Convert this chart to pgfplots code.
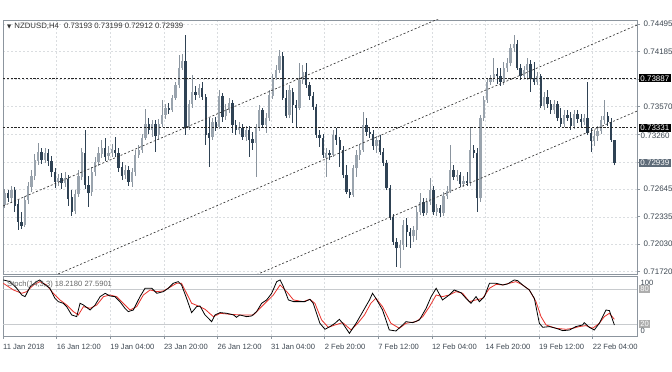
\documentclass[border=0pt]{standalone}
\usepackage{pgfplots}
\pgfplotsset{compat=1.18}
\usepackage{pgfplotstable}
\usepackage{fontspec}
\setmainfont{Liberation Sans}
\newfontfamily\dejavu{DejaVu Sans}
\definecolor{bullc}{HTML}{9AA4AE}
\definecolor{bullw}{HTML}{8A949E}
\definecolor{bearc}{HTML}{2F4254}
\definecolor{axc}{HTML}{8C959E}
\definecolor{txt}{HTML}{3E4852}
\definecolor{gridc}{HTML}{DADDE0}
\definecolor{lastc}{HTML}{5E6B78}
\definecolor{levc}{HTML}{C8CBCE}
\definecolor{stochred}{HTML}{E8302A}

\pgfplotstableread{
i o h l c
0 .72467 .72646 .72433 .72601
2 .72545 .72680 .72489 .72635
6 .72243 .72568 .72221 .72523
7 .72523 .72725 .72478 .72680
8 .72669 .72859 .72613 .72792
9 .72792 .73039 .72747 .72972
10 .72961 .73162 .72916 .73062
12 .72972 .73106 .72938 .73050
16 .72725 .72814 .72680 .72769
18 .72713 .72837 .72669 .72769
21 .72400 .72635 .72366 .72590
22 .72590 .72859 .72557 .72792
23 .72781 .73106 .72747 .73062
26 .72613 .72894 .72568 .72837
27 .72837 .73006 .72792 .72950
28 .72950 .73118 .72905 .73050
29 .73039 .73196 .72994 .73106
31 .73017 .73129 .72972 .73050
32 .73050 .73151 .73006 .73095
36 .72803 .72916 .72758 .72859
38 .72725 .72882 .72669 .72837
39 .72837 .73084 .72792 .73028
40 .73028 .73140 .72994 .73084
41 .73084 .73263 .73050 .73218
42 .73218 .73543 .73196 .73375
44 .73308 .73420 .73230 .73375
46 .73252 .73431 .73196 .73375
47 .73375 .73644 .73342 .73476
48 .73476 .73599 .73431 .73554
50 .73532 .73700 .73510 .73666
51 .73666 .73846 .73644 .73812
52 .73812 .74148 .73778 .74002
53 .74002 .74159 .73980 .74081
55 .73330 .73644 .73308 .73599
56 .73599 .73924 .73554 .73734
58 .73700 .73823 .73666 .73778
62 .73230 .73442 .73196 .73398
64 .73342 .73756 .73319 .73689
66 .73465 .73599 .73420 .73543
67 .73543 .73666 .73498 .73610
70 .73308 .73398 .73263 .73342
72 .73230 .73353 .73185 .73308
75 .73162 .73375 .72781 .73330
76 .73330 .73588 .73297 .73532
78 .73364 .73498 .73274 .73442
79 .73442 .73756 .73409 .73700
80 .73689 .73935 .73655 .73890
81 .73890 .74036 .73868 .73980
82 .73980 .74204 .73946 .74137
85 .73476 .73812 .73442 .73756
88 .73554 .74058 .73532 .73868
89 .73868 .74036 .73823 .73958
96 .72994 .73106 .72781 .73050
98 .73028 .73308 .73006 .73252
104 .72579 .72916 .72557 .72882
105 .72882 .73084 .72781 .73028
106 .73028 .73151 .72972 .73084
107 .73084 .73510 .73062 .73364
111 .73129 .73241 .73050 .73196
118 .71985 .72075 .71761 .72019
119 .72019 .72299 .71963 .72243
122 .72120 .72232 .72053 .72187
123 .72187 .72456 .72075 .72389
124 .72389 .72601 .72355 .72501
126 .72377 .72545 .72355 .72501
127 .72501 .72769 .72467 .72635
129 .72389 .72478 .72344 .72433
131 .72377 .72613 .72344 .72568
132 .72568 .72680 .72534 .72624
133 .72624 .73140 .72601 .72859
135 .72781 .72859 .72736 .72803
137 .72702 .72792 .72669 .72736
139 .72713 .73342 .72680 .73084
142 .72545 .73476 .72501 .73442
143 .73442 .73689 .73409 .73644
144 .73644 .73890 .73610 .73846
145 .73846 .73924 .73812 .73890
146 .73890 .74114 .73846 .73935
149 .73846 .74070 .73812 .74002
150 .74002 .74114 .73958 .74058
151 .74058 .74267 .74019 .74226
152 .74226 .74372 .74182 .74267
155 .73913 .74019 .73879 .73980
156 .73980 .74114 .73868 .74047
159 .73846 .73958 .73812 .73913
161 .73577 .73734 .73532 .73678
164 .73532 .73644 .73487 .73599
167 .73375 .73532 .73342 .73476
170 .73353 .73532 .73319 .73487
173 .73398 .73487 .73364 .73442
176 .73185 .73308 .73129 .73241
177 .73241 .73353 .73185 .73297
178 .73297 .73465 .73263 .73420
179 .73420 .73644 .73375 .73465
}\bull

\pgfplotstableread{
i o h l c
1 .72601 .72635 .72501 .72545
3 .72635 .72669 .72389 .72456
4 .72478 .72523 .72187 .72277
5 .72277 .72389 .72198 .72232
11 .73062 .73106 .72927 .72972
13 .73050 .73095 .72905 .72961
14 .72961 .73017 .72781 .72837
15 .72837 .72882 .72657 .72725
17 .72769 .72825 .72646 .72713
19 .72758 .72803 .72456 .72534
20 .72557 .72635 .72344 .72389
24 .73050 .73308 .72646 .72691
25 .72691 .72792 .72445 .72601
30 .73106 .73218 .72961 .73006
33 .73084 .73230 .73006 .73050
34 .73050 .73106 .72837 .72882
35 .72894 .72950 .72747 .72792
37 .72859 .72905 .72680 .72725
43 .73375 .73442 .73263 .73308
45 .73375 .73420 .73062 .73241
49 .73554 .73610 .73487 .73532
54 .74081 .74372 .73252 .73330
57 .73734 .73801 .73644 .73700
59 .73778 .73846 .73644 .73678
60 .73678 .73711 .73140 .73252
61 .73274 .73442 .72894 .73218
63 .73398 .73454 .73297 .73342
65 .73689 .73722 .73398 .73454
68 .73610 .73644 .73274 .73364
69 .73364 .73420 .73252 .73308
71 .73330 .73375 .73196 .73230
73 .73308 .73353 .73006 .73196
74 .73207 .73286 .73084 .73162
77 .73532 .73554 .73330 .73364
83 .74137 .74182 .73644 .73666
84 .73666 .73756 .73442 .73465
86 .73734 .73778 .73386 .73588
87 .73588 .73644 .73342 .73554
90 .73958 .74058 .73778 .73812
91 .73812 .73846 .73644 .73689
92 .73689 .73734 .73532 .73566
93 .73566 .73599 .73218 .73252
94 .73252 .73308 .73118 .73218
95 .73218 .73263 .72994 .73028
97 .73050 .73084 .72972 .73028
99 .73252 .73330 .73140 .73196
100 .73196 .73230 .72894 .73084
101 .73084 .73129 .72769 .72803
102 .72803 .72916 .72590 .72613
103 .72613 .72646 .72545 .72579
108 .73364 .73442 .73241 .73286
109 .73286 .73330 .73218 .73263
110 .73263 .73308 .73084 .73129
112 .73196 .73252 .73028 .73062
113 .73062 .73106 .72905 .72938
114 .72938 .72972 .72635 .72657
115 .72657 .72691 .72299 .72333
116 .72333 .72366 .72019 .72053
117 .72053 .72097 .71773 .71985
120 .72243 .72321 .71997 .72165
121 .72165 .72209 .71985 .72120
125 .72501 .72545 .72344 .72377
128 .72635 .72680 .72355 .72389
130 .72433 .72467 .72333 .72377
134 .72859 .72916 .72747 .72781
136 .72803 .72837 .72669 .72702
138 .72736 .72837 .72680 .72713
140 .73084 .73140 .72994 .73050
141 .73050 .73106 .72389 .72545
147 .73935 .74002 .73823 .73913
148 .73913 .74002 .73801 .73846
153 .74267 .74316 .73980 .74002
154 .74002 .74047 .73868 .73913
157 .74047 .74092 .73734 .73890
158 .73890 .74070 .73812 .73846
160 .73913 .73935 .73554 .73577
162 .73678 .73756 .73554 .73599
163 .73599 .73644 .73487 .73532
165 .73599 .73633 .73409 .73442
166 .73442 .73554 .73342 .73375
168 .73476 .73532 .73409 .73442
169 .73442 .73510 .73308 .73353
171 .73487 .73532 .73386 .73431
172 .73431 .73487 .73342 .73398
174 .73442 .73846 .73252 .73274
175 .73274 .73330 .73062 .73185
180 .73465 .73510 .73353 .73398
181 .73398 .73442 .73174 .73196
182 .73193 .73199 .72912 .72939
}\bear

\begin{document}
\begin{tikzpicture}
\path[use as bounding box] (0,0) rectangle (672pt,372pt);
\fill[white] (0,0) rectangle (672pt,372pt);

\begin{axis}[
  at={(3pt,98pt)}, anchor=south west,
  scale only axis, width=634pt, height=254pt,
  xmin=-0.5, xmax=188.75, ymin=0.71694, ymax=0.74540,
  axis line style={draw=axc, line width=0.9pt},
  xtick={-0.5,15.5,...,175.5}, xticklabels={},
  ytick={0.74495,0.74185,0.73875,0.73570,0.73260,0.72950,0.72645,0.72335,0.72030,0.71720},
  yticklabels={0.74495,0.74185,,0.73570,,,0.72645,0.72335,0.72030,0.71720},
  ytick pos=right, tick align=outside, major tick length=3pt,
  xtick style={draw=none}, ytick style={draw=axc, line width=0.6pt},
  grid=major, major grid style={draw=gridc, dash pattern=on 2pt off 2pt, line width=0.5pt},
  yticklabel style={anchor=west, inner sep=0pt, xshift=3.5pt, font=\fontsize{8}{9}\selectfont, text=txt},
]
% wicks
\addplot[draw=none, mark=none, error bars/.cd, y dir=plus, y explicit, error mark=none,
  error bar style={draw=bullw, line width=0.7pt}]
  table[x=i, y=l, y error expr=\thisrow{h}-\thisrow{l}] {\bull};
\addplot[draw=none, mark=none, error bars/.cd, y dir=plus, y explicit, error mark=none,
  error bar style={draw=bearc, line width=0.7pt}]
  table[x=i, y=l, y error expr=\thisrow{h}-\thisrow{l}] {\bear};
% bodies
\addplot[draw=none, mark=none, error bars/.cd, y dir=plus, y explicit, error mark=none,
  error bar style={draw=bullc, line width=2.3pt}]
  table[x=i, y=o, y error expr=\thisrow{c}-\thisrow{o}] {\bull};
\addplot[draw=none, mark=none, error bars/.cd, y dir=plus, y explicit, error mark=none,
  error bar style={draw=bearc, line width=2.3pt}]
  table[x=i, y=c, y error expr=\thisrow{o}-\thisrow{c}] {\bear};
% channel lines
\addplot[black!80, line width=0.65pt, dash pattern=on 2pt off 2pt] coordinates {(-0.5,0.72456) (188.75,0.75510)};
\addplot[black!80, line width=0.65pt, dash pattern=on 2pt off 2pt] coordinates {(-0.5,0.71429) (188.75,0.74483)};
\addplot[black!80, line width=0.65pt, dash pattern=on 2pt off 2pt] coordinates {(-0.5,0.70465) (188.75,0.73519)};
% horizontal levels
\addplot[black!85, line width=0.9pt, dash pattern=on 2.2pt off 1.6pt] coordinates {(-0.5,0.73887) (188.75,0.73887)};
\addplot[black!85, line width=0.9pt, dash pattern=on 2.2pt off 1.6pt] coordinates {(-0.5,0.73331) (188.75,0.73331)};
\coordinate (b1) at (axis cs:188.75,0.73887);
\coordinate (b2) at (axis cs:188.75,0.73331);
\coordinate (b3) at (axis cs:188.75,0.72939);
\coordinate (t4) at (axis cs:188.75,0.73260);
\node[anchor=north west, inner sep=0pt, font=\fontsize{7.8}{9}\selectfont, text=black!80] at (rel axis cs:0,1) [xshift=4pt, yshift=-3pt]
  {{\dejavu\fontsize{5.5}{6}\selectfont ▼}\hspace{3pt}NZDUSD,H4\hspace{5pt}0.73193 0.73199 0.72912 0.72939};
\end{axis}
\node[anchor=west, inner sep=0pt, font=\fontsize{8}{9}\selectfont, text=txt] at ([xshift=3.5pt, yshift=-1.8pt]t4) {0.73260};
\node[fill=black, text=white, anchor=west, inner xsep=1.2pt, inner ysep=1pt, font=\fontsize{8}{9}\selectfont] at ([xshift=2pt]b1) {0.73887};
\node[fill=black, text=white, anchor=west, inner xsep=1.2pt, inner ysep=1pt, font=\fontsize{8}{9}\selectfont] at ([xshift=2pt]b2) {0.73331};
\node[fill=lastc, text=white, anchor=west, inner xsep=1.2pt, inner ysep=1pt, font=\fontsize{8}{9}\selectfont] at ([xshift=2pt]b3) {0.72939};

\begin{axis}[
  at={(3pt,36pt)}, anchor=south west,
  scale only axis, width=634pt, height=59.5pt,
  xmin=-0.5, xmax=188.75, ymin=-0.6, ymax=101.4,
  axis line style={draw=axc, line width=0.9pt},
  xtick={-0.5,15.5,...,175.5},
  xticklabels={11 Jan 2018,16 Jan 12:00,19 Jan 04:00,23 Jan 20:00,26 Jan 12:00,31 Jan 04:00,2 Feb 20:00,7 Feb 12:00,12 Feb 04:00,14 Feb 20:00,19 Feb 12:00,22 Feb 04:00},
  xtick pos=bottom, tick align=outside, major tick length=3pt,
  xtick style={draw=axc, line width=0.6pt},
  ytick=\empty,
  xmajorgrids, major grid style={draw=gridc, dash pattern=on 2pt off 2pt, line width=0.5pt},
  xticklabel style={anchor=north west, inner sep=0pt, yshift=-5pt, font=\fontsize{7.6}{9}\selectfont, text=txt},
]
\addplot[levc, line width=0.9pt] coordinates {(-0.5,20) (188.75,20)};
\addplot[levc, line width=0.9pt] coordinates {(-0.5,80) (188.75,80)};
\addplot[stochred, line width=0.8pt] coordinates {(-0.4,89.7)(2.6,78.3)(5.1,72.6)(6.6,75.5)(8.6,86.9)(10.5,92.6)(12.5,86.9)(14.5,72.6)(16.5,61.2)(18.5,52.6)(20.5,41.2)(22.0,35.5)(23.5,49.7)(25.5,46.9)(27.5,52.6)(29.5,66.9)(31.4,69.7)(33.4,66.9)(35.4,55.5)(37.4,44.0)(39.4,49.7)(41.4,69.7)(43.4,78.3)(45.4,75.5)(47.4,76.6)(49.3,82.9)(51.3,89.7)(52.8,89.7)(54.3,72.6)(55.8,55.5)(57.8,50.9)(59.8,45.2)(62.3,32.6)(64.3,38.3)(67.3,36.6)(70.2,35.5)(74.2,35.5)(76.2,46.9)(78.2,58.3)(80.2,69.7)(82.2,86.9)(84.2,75.5)(86.2,61.2)(89.1,58.3)(91.1,62.3)(92.6,55.5)(94.6,26.9)(96.6,14.3)(98.6,18.3)(100.9,22.3)(103.4,9.8)(105.4,21.2)(107.4,35.5)(109.3,55.5)(110.8,64.0)(112.8,49.7)(115.3,21.2)(117.8,12.6)(119.8,21.2)(122.8,24.0)(124.8,32.6)(126.8,49.7)(128.8,69.7)(130.7,66.9)(132.7,69.7)(134.7,75.5)(136.7,72.6)(138.7,58.3)(140.7,61.2)(142.7,64.0)(144.7,81.2)(146.7,88.0)(148.7,86.9)(150.6,89.7)(152.6,92.6)(154.6,86.9)(156.6,78.3)(158.6,58.3)(160.1,32.6)(161.6,18.3)(164.6,12.6)(167.6,10.9)(169.6,12.6)(171.5,15.5)(173.5,17.2)(175.5,12.6)(177.5,21.2)(179.0,32.6)(180.5,38.3)(182.0,28.0)};
\addplot[black, line width=0.8pt] coordinates {(-0.4,95.5)(1.6,92.6)(3.6,81.2)(5.1,69.7)(6.1,66.9)(7.6,84.0)(9.5,92.6)(10.5,95.5)(11.5,89.7)(13.5,81.2)(15.0,64.0)(16.0,58.3)(17.5,55.5)(18.5,49.7)(20.0,35.5)(21.5,32.6)(22.5,55.5)(23.5,52.6)(25.5,44.0)(27.0,52.6)(28.5,66.9)(30.0,72.6)(31.4,68.0)(32.9,66.9)(34.4,58.3)(35.9,46.9)(36.9,41.2)(38.4,44.0)(39.4,55.5)(40.4,66.9)(41.9,81.2)(43.9,81.2)(45.4,72.6)(47.4,75.5)(48.8,81.2)(50.3,89.7)(51.8,92.6)(52.8,86.9)(54.3,64.0)(55.8,39.5)(57.3,49.7)(58.3,50.9)(59.8,35.5)(61.8,24.0)(62.8,35.5)(64.3,39.5)(66.3,38.3)(68.3,35.5)(69.2,31.5)(70.2,35.5)(72.2,32.6)(73.7,33.7)(75.2,41.2)(76.7,55.5)(78.2,61.2)(79.7,72.6)(81.2,92.6)(82.2,95.5)(83.2,84.0)(84.7,61.2)(86.2,58.3)(88.2,58.3)(89.6,58.3)(91.1,62.3)(92.1,55.5)(94.1,21.2)(95.6,10.9)(97.1,15.5)(98.6,21.2)(99.9,28.0)(100.9,21.2)(102.9,4.0)(104.9,21.2)(106.9,41.2)(108.9,61.2)(109.8,72.6)(110.8,64.0)(112.8,44.0)(114.8,9.8)(116.8,8.0)(118.8,18.3)(119.8,24.0)(121.8,22.3)(123.8,26.9)(125.8,46.9)(127.3,66.9)(128.8,81.2)(130.7,61.2)(132.7,69.7)(134.2,78.3)(136.2,73.7)(137.7,64.0)(139.2,55.5)(140.7,66.9)(141.7,58.3)(143.2,66.9)(144.7,89.7)(146.7,89.7)(148.7,86.9)(150.1,88.6)(152.1,95.5)(153.1,94.3)(154.6,86.9)(156.6,78.3)(158.1,64.0)(159.6,21.2)(160.6,14.3)(162.6,15.5)(164.6,12.6)(166.6,8.6)(168.6,9.7)(170.5,15.5)(172.5,18.3)(173.0,22.3)(174.5,14.3)(176.0,9.7)(177.5,21.2)(179.5,44.0)(180.5,42.9)(182.0,18.2)};
\node[anchor=north west, inner sep=0pt, font=\fontsize{7.6}{9}\selectfont, text=black!60] at (rel axis cs:0,1) [xshift=4pt, yshift=-4.5pt] {Stoch(14,3,3) 18.2180 27.5901};
\coordinate (s100) at (axis cs:188.75,90.8);
\coordinate (s80) at (axis cs:188.75,80);
\coordinate (s20) at (axis cs:188.75,20);
\coordinate (s0) at (axis cs:188.75,8.9);
\end{axis}
\node[anchor=west, inner sep=0pt, font=\fontsize{7.6}{9}\selectfont, text=txt] at ([xshift=3.5pt]s100) {100};
\node[anchor=west, fill=black!32, text=white, inner xsep=1.2pt, inner ysep=0.9pt, font=\fontsize{7.6}{9}\selectfont] at ([xshift=2pt]s80) {80};
\node[anchor=west, fill=black!32, text=white, inner xsep=1.2pt, inner ysep=0.9pt, font=\fontsize{7.6}{9}\selectfont] at ([xshift=2pt]s20) {20};
\node[anchor=west, inner sep=0pt, font=\fontsize{7.6}{9}\selectfont, text=txt] at ([xshift=3.5pt]s0) {0};
\end{tikzpicture}
\end{document}
